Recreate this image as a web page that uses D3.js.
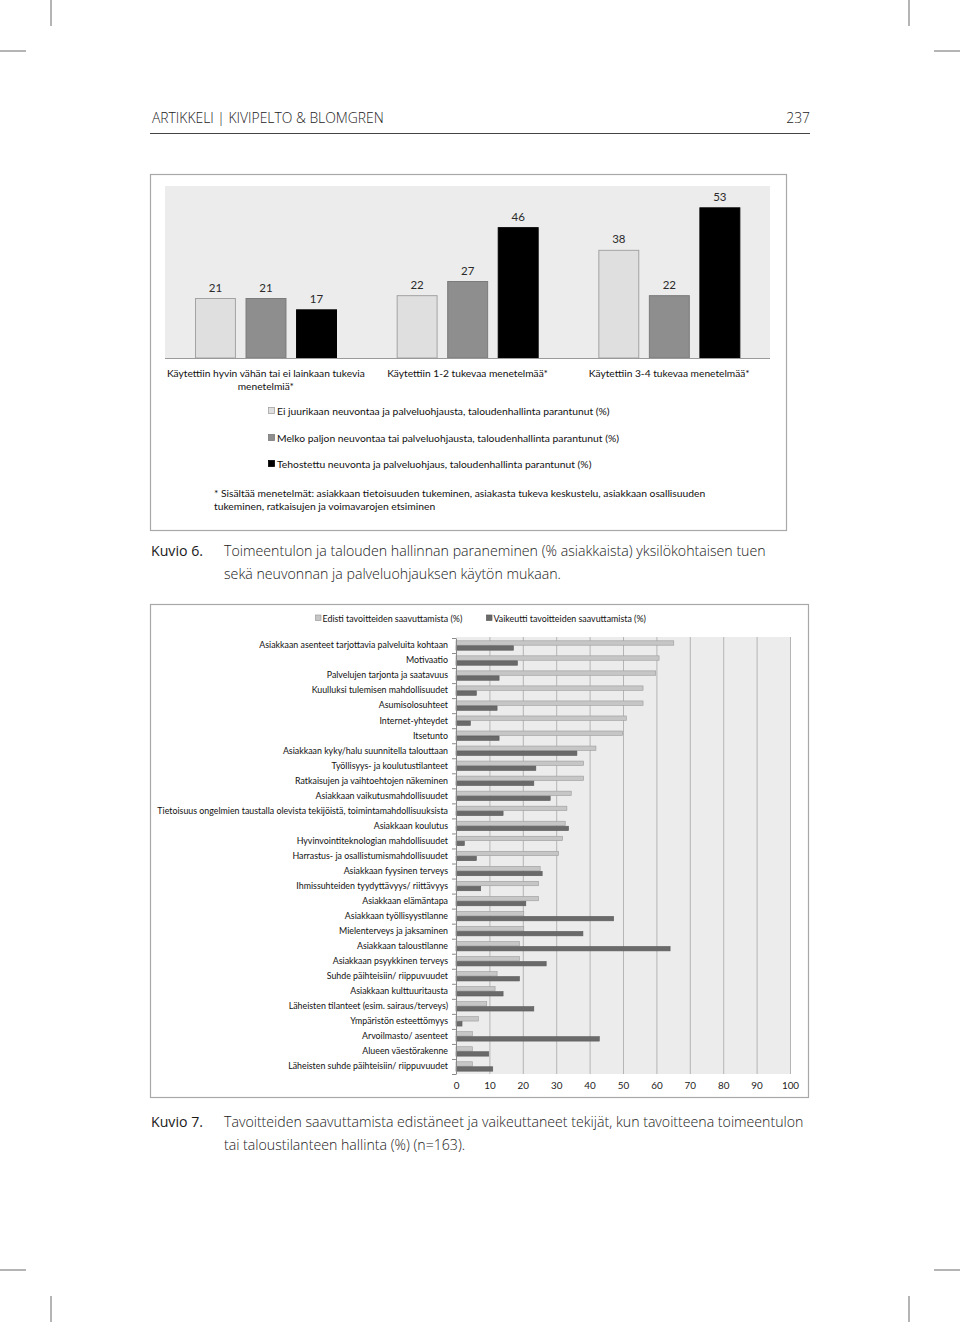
<!DOCTYPE html>
<html><head><meta charset="utf-8">
<script src="https://cdn.jsdelivr.net/npm/d3@7"></script>
<style>
html,body{margin:0;padding:0;background:#fff;}
svg{display:block;}
</style></head>
<body>
<svg id="page" width="960" height="1322"></svg>
<script>
// ---------- Data: Kuvio 6 ----------
const groups1 = ["g1", "g2", "g3"];
const groupLabelLines = [
  ["Käytettiin hyvin vähän tai ei lainkaan tukevia", "menetelmiä*"],
  ["Käytettiin 1-2 tukevaa menetelmää*"],
  ["Käytettiin 3-4 tukevaa menetelmää*"]
];
const series1 = [
  "Ei juurikaan neuvontaa ja palveluohjausta, taloudenhallinta parantunut (%)",
  "Melko paljon neuvontaa tai palveluohjausta, taloudenhallinta parantunut (%)",
  "Tehostettu neuvonta ja palveluohjaus, taloudenhallinta parantunut (%)"
];
const valuesEi = [21, 22, 38];
const valuesMelko = [21, 27, 22];
const valuesTeho = [17, 46, 53];
const footnoteLines = [
  "* Sisältää menetelmät: asiakkaan tietoisuuden tukeminen, asiakasta tukeva keskustelu, asiakkaan osallisuuden",
  "tukeminen, ratkaisujen ja voimavarojen etsiminen"
];

// ---------- Data: Kuvio 7 ----------
const factors = [
  "Asiakkaan asenteet tarjottavia palveluita kohtaan",
  "Motivaatio",
  "Palvelujen tarjonta ja saatavuus",
  "Kuulluksi tulemisen mahdollisuudet",
  "Asumisolosuhteet",
  "Internet-yhteydet",
  "Itsetunto",
  "Asiakkaan kyky/halu suunnitella talouttaan",
  "Työllisyys- ja koulutustilanteet",
  "Ratkaisujen ja vaihtoehtojen näkeminen",
  "Asiakkaan vaikutusmahdollisuudet",
  "Tietoisuus ongelmien taustalla olevista tekijöistä, toimintamahdollisuuksista",
  "Asiakkaan koulutus",
  "Hyvinvointiteknologian mahdollisuudet",
  "Harrastus- ja osallistumismahdollisuudet",
  "Asiakkaan fyysinen terveys",
  "Ihmissuhteiden tyydyttävyys/ riittävyys",
  "Asiakkaan elämäntapa",
  "Asiakkaan työllisyystilanne",
  "Mielenterveys ja jaksaminen",
  "Asiakkaan taloustilanne",
  "Asiakkaan psyykkinen terveys",
  "Suhde päihteisiin/ riippuvuudet",
  "Asiakkaan kulttuuritausta",
  "Läheisten tilanteet (esim. sairaus/terveys)",
  "Ympäristön esteettömyys",
  "Arvoilmasto/ asenteet",
  "Alueen väestörakenne",
  "Läheisten suhde päihteisiin/ riippuvuudet"
];
const edisti = [65.2,60.8,59.8,56.0,56.0,51.0,49.9,41.9,38.2,38.2,34.5,33.2,32.7,31.9,30.7,25.2,24.7,24.7,20.3,20.3,19.0,19.0,12.3,11.7,9.2,6.7,4.9,4.9,4.9];
const vaikeutti = [17.2,18.4,12.9,6.1,12.3,4.3,12.9,36.2,23.9,23.3,28.2,14.1,33.7,2.5,6.1,25.8,7.4,20.9,47.2,38.0,64.1,27.0,19.0,14.1,23.3,1.8,42.9,9.8,11.0];
const series2 = ["Edisti tavoitteiden saavuttamista (%)", "Vaikeutti tavoitteiden saavuttamista (%)"];
const xTicks2 = [0,10,20,30,40,50,60,70,80,90,100];

// ---------- Text ----------
const headerLeft = "ARTIKKELI | KIVIPELTO & BLOMGREN";
const headerRight = "237";
const caption6 = ["Toimeentulon ja talouden hallinnan paraneminen (% asiakkaista) yksilökohtaisen tuen", "sekä neuvonnan ja palveluohjauksen käytön mukaan."];
const caption7 = ["Tavoitteiden saavuttamista edistäneet ja vaikeuttaneet tekijät, kun tavoitteena toimeentulon", "tai taloustilanteen hallinta (%) (n=163)."];

const svg = d3.select("#page");
const chartFont = "Lato, 'Open Sans', sans-serif";
const pageFont = "'Open Sans', Lato, sans-serif";

function fitSize(sel, target) {
  const n = sel.node();
  const fs = parseFloat(sel.attr("font-size"));
  const w = n.getComputedTextLength();
  const s = fs * target / w;
  sel.attr("font-size", s);
  return s;
}

// ---------- Crop marks ----------
const marks = [
  [51,0,51,26],[909,0,909,26],[0,51,26,51],[934,51,960,51],
  [0,1270,26,1270],[934,1270,960,1270],[51,1296,51,1322],[909,1296,909,1322]
];
svg.selectAll("line.crop").data(marks).join("line").attr("class","crop")
  .attr("x1",d=>d[0]).attr("y1",d=>d[1]).attr("x2",d=>d[2]).attr("y2",d=>d[3])
  .attr("stroke","#444").attr("stroke-width",0.8);

// ---------- Header ----------
const hl = svg.append("text").attr("x",152).attr("y",123).attr("font-family",pageFont)
  .attr("font-weight",300).attr("font-size",14).attr("fill","#222").text(headerLeft);
const hs = fitSize(hl, 232);
svg.append("text").attr("x",810).attr("y",123).attr("text-anchor","end").attr("font-family",pageFont)
  .attr("font-weight",300).attr("font-size",hs).attr("fill","#222").text(headerRight);
svg.append("line").attr("x1",150).attr("x2",810).attr("y1",133.5).attr("y2",133.5)
  .attr("stroke","#444").attr("stroke-width",1);

// ---------- Kuvio 6 ----------
const c1 = svg.append("g");
c1.append("rect").attr("x",150.5).attr("y",174.5).attr("width",636).attr("height",356)
  .attr("fill","#fff").attr("stroke","#a8a8a8").attr("stroke-width",1.2);
c1.append("rect").attr("x",165).attr("y",186).attr("width",605).attr("height",172).attr("fill","#ececec");

const x1 = d3.scaleBand().domain(groups1).range([165,770]).padding(0);
const xs = d3.scaleBand().domain([0,1,2]).range([30,172]).paddingInner(0.19).paddingOuter(0);
const y1 = d3.scaleLinear().domain([0,60]).range([358,188]);
const seriesVals = [valuesEi, valuesMelko, valuesTeho];
const fills1 = ["#dfdfdf","#8e8e8e","#000000"];
const strokes1 = ["#a3a3a3","#7b7b7b","#000000"];
const barData1 = [];
seriesVals.forEach((vals,si)=>vals.forEach((v,gi)=>barData1.push({si,gi,v})));
c1.selectAll("rect.bar").data(barData1).join("rect").attr("class","bar")
  .attr("x",d=>x1(groups1[d.gi])+xs(d.si)+0.5).attr("y",d=>y1(d.v))
  .attr("width",xs.bandwidth()-1).attr("height",d=>y1(0)-y1(d.v))
  .attr("fill",d=>fills1[d.si]).attr("stroke",d=>strokes1[d.si]).attr("stroke-width",1);
c1.selectAll("text.val").data(barData1).join("text").attr("class","val")
  .attr("x",d=>x1(groups1[d.gi])+xs(d.si)+xs.bandwidth()/2).attr("y",d=>y1(d.v)-7)
  .attr("text-anchor","middle").attr("font-family",chartFont).attr("font-size",11.5)
  .attr("fill","#2a2a2a").text(d=>d.v);
c1.append("line").attr("x1",165).attr("x2",770).attr("y1",358.5).attr("y2",358.5)
  .attr("stroke","#9a9a9a").attr("stroke-width",1);

// category labels
const lab0 = c1.append("text").attr("font-family",chartFont).attr("font-size",10).text(groupLabelLines[0][0]);
const labSize = 10 * 198 / lab0.node().getComputedTextLength();
lab0.remove();
groupLabelLines.forEach((lines,gi)=>{
  lines.forEach((ln,li)=>{
    c1.append("text").attr("x",x1(groups1[gi])+x1.bandwidth()/2).attr("y",377+li*12.5)
      .attr("text-anchor","middle").attr("font-family",chartFont).attr("font-size",labSize)
      .attr("fill","#111").text(ln);
  });
});

// legend
const legY = [411,438,464];
series1.forEach((s,i)=>{
  c1.append("rect").attr("x",268.5).attr("y",legY[i]-3.5).attr("width",6).attr("height",6)
    .attr("fill",fills1[i]).attr("stroke",strokes1[i]).attr("stroke-width",0.8);
});
const lt0 = c1.append("text").attr("font-family",chartFont).attr("font-size",10).text(series1[0]);
const legSize = 10 * 333 / lt0.node().getComputedTextLength();
lt0.remove();
series1.forEach((s,i)=>{
  c1.append("text").attr("x",277).attr("y",legY[i]+3.5).attr("font-family",chartFont)
    .attr("font-size",legSize).attr("fill","#111").text(s);
});
const fn0 = c1.append("text").attr("font-family",chartFont).attr("font-size",10).text(footnoteLines[0]);
const fnSize = 10 * 492 / fn0.node().getComputedTextLength();
fn0.remove();
footnoteLines.forEach((ln,i)=>{
  c1.append("text").attr("x",214).attr("y",497+i*13).attr("font-family",chartFont)
    .attr("font-size",fnSize).attr("fill","#111").text(ln);
});

// ---------- Captions ----------
function caption(num, lines, y, firstWidth) {
  const k = svg.append("text").attr("x",151).attr("y",y).attr("font-family",pageFont)
    .attr("font-size",14).attr("fill","#1a1a1a").text(num);
  const t = svg.append("text").attr("x",224).attr("y",y).attr("font-family",pageFont)
    .attr("font-weight",300).attr("font-size",14).attr("fill","#1a1a1a").text(lines[0]);
  const s = fitSize(t, firstWidth);
  k.attr("font-size", s);
  svg.append("text").attr("x",224).attr("y",y+23).attr("font-family",pageFont)
    .attr("font-weight",300).attr("font-size",s).attr("fill","#1a1a1a").text(lines[1]);
}
caption("Kuvio 6.", caption6, 556, 542);

// ---------- Kuvio 7 ----------
const c2 = svg.append("g");
c2.append("rect").attr("x",150.5).attr("y",604.5).attr("width",658).attr("height",493)
  .attr("fill","#fff").attr("stroke","#a8a8a8").attr("stroke-width",1.2);

const x2 = d3.scaleLinear().domain([0,100]).range([456,790]);
const y2 = d3.scaleBand().domain(factors).range([638,1074]).padding(0);
const inner = d3.scaleBand().domain([0,1]).range([2.5,12.5]).padding(0);
c2.append("rect").attr("x",x2(0)).attr("y",637).attr("width",x2(100)-x2(0)).attr("height",1074-637)
  .attr("fill","#ececec");
c2.selectAll("line.grid").data(xTicks2.slice(1)).join("line").attr("class","grid")
  .attr("x1",d=>x2(d)+0.5).attr("x2",d=>x2(d)+0.5).attr("y1",637).attr("y2",1074)
  .attr("stroke","#b5b5b5").attr("stroke-width",1);

const barData2 = [];
factors.forEach((f,i)=>{ barData2.push({f,s:0,v:edisti[i]}); barData2.push({f,s:1,v:vaikeutti[i]}); });
const fills2 = ["#c6c6c6","#6a6a6a"], strokes2 = ["#9c9c9c","#5a5a5a"];
c2.selectAll("rect.bar").data(barData2).join("rect").attr("class","bar")
  .attr("x",x2(0)).attr("y",d=>y2(d.f)+inner(d.s)+0.3)
  .attr("width",d=>x2(d.v)-x2(0)).attr("height",inner.bandwidth()-0.6)
  .attr("fill",d=>fills2[d.s]).attr("stroke",d=>strokes2[d.s]).attr("stroke-width",0.6);

// y axis
const yAxis = c2.append("g").attr("transform",`translate(${x2(0)},0)`)
  .call(d3.axisLeft(y2).tickSize(0).tickPadding(8));
yAxis.select(".domain").attr("stroke","#8a8a8a");
yAxis.selectAll("text").attr("font-family",chartFont).attr("fill","#111").attr("font-size",9);
const bounds = factors.map(f=>y2(f)).concat([1074]);
c2.selectAll("line.ytick").data(bounds).join("line").attr("class","ytick")
  .attr("x1",x2(0)-4).attr("x2",x2(0)).attr("y1",d=>d+0.5).attr("y2",d=>d+0.5)
  .attr("stroke","#8a8a8a");
let lw = 0;
yAxis.selectAll("text").each(function(){ const w=this.getComputedTextLength(); if(w>lw){lw=w;} });
const ys = 9 * 291 / lw;
yAxis.selectAll("text").attr("font-size",ys).attr("dy","0.32em");
yAxis.selectAll(".tick text").attr("x",-8);

// x axis labels
const xAxis = c2.append("g").attr("transform",`translate(0,1074)`)
  .call(d3.axisBottom(x2).tickValues(xTicks2).tickSize(0).tickPadding(8));
xAxis.select(".domain").remove();
xAxis.selectAll("text").attr("font-family",chartFont).attr("font-size",ys*1.12).attr("fill","#222");

// legend
const leg2x = [315.5, 486.5];
const lt2 = c2.append("text").attr("font-family",chartFont).attr("font-size",10).text(series2[0]);
const leg2Size = 10 * 140 / lt2.node().getComputedTextLength();
lt2.remove();
series2.forEach((s,i)=>{
  c2.append("rect").attr("x",leg2x[i]).attr("y",615).attr("width",5.5).attr("height",5.5)
    .attr("fill",fills2[i]).attr("stroke",strokes2[i]).attr("stroke-width",0.7);
  c2.append("text").attr("x",leg2x[i]+7).attr("y",621.5).attr("font-family",chartFont)
    .attr("font-size",leg2Size).attr("fill","#111").text(s);
});

caption("Kuvio 7.", caption7, 1127, 580);
</script>
</body></html>
